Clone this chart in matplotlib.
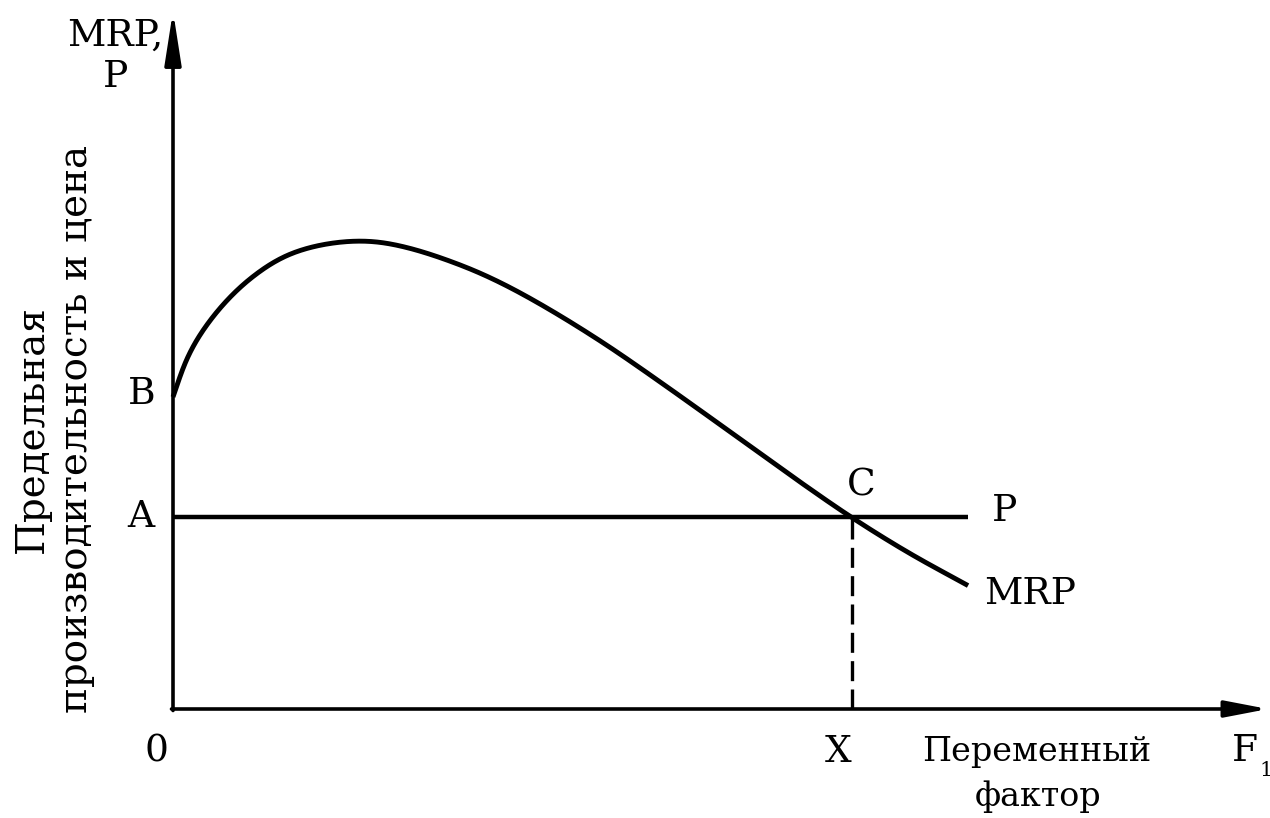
import matplotlib
matplotlib.use("Agg")
import matplotlib.pyplot as plt
import numpy as np

plt.rcParams['font.family'] = ['DejaVu Serif']

# MRP curve points (variable factor, marginal revenue product)
mrp_x = [0.00, 0.14, 0.30, 0.47, 0.64, 0.87, 1.14, 1.47, 1.80, 2.07, 2.40, 2.74, 3.07,
         3.40, 3.74, 4.07, 4.44, 5.07, 5.67, 6.20, 6.78, 7.36, 7.94]
mrp_y = [3.12, 3.51, 3.79, 4.01, 4.19, 4.38, 4.54, 4.64, 4.68, 4.67, 4.60, 4.49, 4.36,
         4.20, 4.01, 3.81, 3.57, 3.13, 2.70, 2.32, 1.92, 1.56, 1.24]
price_level = 1.92
price_x_end = 7.95
x_equilibrium = 6.79

fig = plt.figure(figsize=(12.7, 8.18), dpi=100)
ax = fig.add_axes([0, 0, 1, 1])
ax.set_xlim(-1.73, 10.97)
ax.set_ylim(-1.09, 7.09)
ax.axis('off')

xs = np.array(mrp_x); ys = np.array(mrp_y)
t = np.concatenate([[0], np.cumsum(np.hypot(np.diff(xs), np.diff(ys)))])
tt = np.linspace(0, t[-1], 800)

def hermite(p, t, tt):
    out = np.empty_like(tt)
    n = len(p)
    for k, v in enumerate(tt):
        i = min(np.searchsorted(t, v, side='right') - 1, n - 2)
        h = t[i + 1] - t[i]
        m1 = (p[i + 1] - p[max(i - 1, 0)]) / (t[i + 1] - t[max(i - 1, 0)]) * h
        m2 = (p[min(i + 2, n - 1)] - p[i]) / (t[min(i + 2, n - 1)] - t[i]) * h
        u = (v - t[i]) / h
        h00 = 2 * u**3 - 3 * u**2 + 1; h10 = u**3 - 2 * u**2 + u
        h01 = -2 * u**3 + 3 * u**2; h11 = u**3 - u**2
        out[k] = h00 * p[i] + h10 * m1 + h01 * p[i + 1] + h11 * m2
    return out

cx = hermite(xs, t, tt); cy = hermite(ys, t, tt)
w = 31
ker = np.ones(w) / w
def smooth(a):
    pad = np.concatenate([2 * a[0] - a[w//2:0:-1], a, 2 * a[-1] - a[-2:-w//2-2:-1]])
    return np.convolve(pad, ker, mode='valid')
cx = smooth(cx); cy = smooth(cy)
ax.plot(cx, cy, color='black', lw=3.5, solid_capstyle='butt', solid_joinstyle='round')

# price line
ax.plot([0, price_x_end], [price_level, price_level], color='black', lw=3.2, solid_capstyle='butt')
# dashed vertical
ax.plot([x_equilibrium, x_equilibrium], [0, price_level], color='black', lw=2.4,
        dashes=(6, 2.5))

# axes with arrows
ax.annotate('', xy=(0, 6.98), xytext=(0, -0.015),
            arrowprops=dict(arrowstyle='-|>,head_length=1.6,head_width=0.25',
                            lw=2.6, color='black', mutation_scale=20, shrinkA=0, shrinkB=0))
ax.annotate('', xy=(10.95, 0.0), xytext=(-0.015, 0.0),
            arrowprops=dict(arrowstyle='-|>,head_length=1.3,head_width=0.25',
                            lw=2.6, color='black', mutation_scale=20, shrinkA=0, shrinkB=0))

fs = 27
ax.text(-0.10, 6.63, 'MRP,', ha='right', va='baseline', fontsize=fs)
ax.text(-0.57, 6.22, 'P', ha='center', va='baseline', fontsize=fs)
ax.text(-0.31, 3.05, 'B', ha='center', va='baseline', fontsize=fs)
ax.text(-0.32, 1.82, 'A', ha='center', va='baseline', fontsize=fs)
ax.text(-0.17, -0.52, '0', ha='center', va='baseline', fontsize=fs)
ax.text(6.88, 2.13, 'C', ha='center', va='baseline', fontsize=fs)
ax.text(8.32, 1.88, 'P', ha='center', va='baseline', fontsize=fs)
ax.text(8.11, 1.05, 'MRP', ha='left', va='baseline', fontsize=fs)
ax.text(6.65, -0.53, 'X', ha='center', va='baseline', fontsize=fs)
ax.text(8.64, -0.52, 'Переменный', ha='center', va='baseline', fontsize=24)
ax.text(8.65, -0.97, 'фактор', ha='center', va='baseline', fontsize=24)
ax.text(10.59, -0.52, 'F', ha='left', va='baseline', fontsize=fs)
ax.text(10.86, -0.67, '1', ha='left', va='baseline', fontsize=15)

ax.text(-1.41, 2.80, 'Предельная', rotation=90, ha='center', va='center', fontsize=28)
ax.text(-0.96, 2.80, 'производительность и цена', rotation=90, ha='center', va='center', fontsize=28)

fig.savefig('out.png', dpi=100)
